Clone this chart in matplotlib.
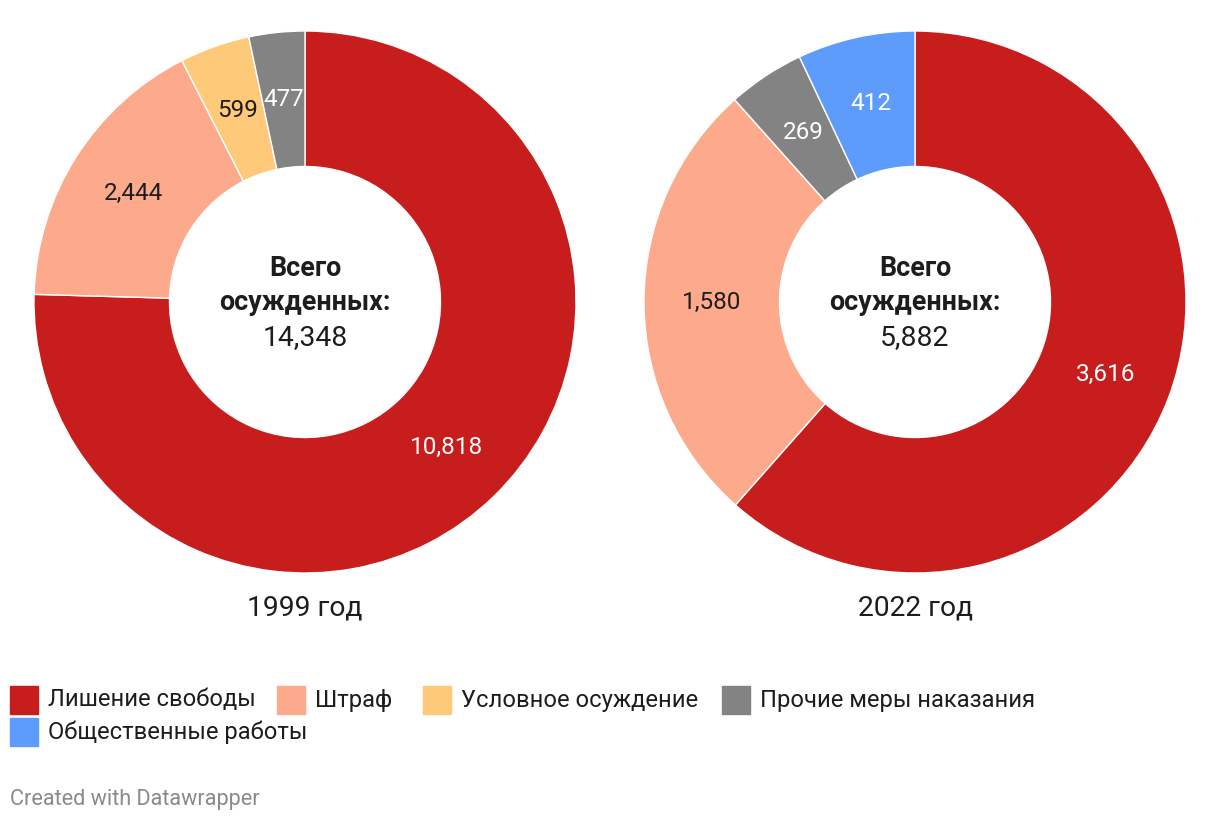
import numpy as np
import matplotlib.pyplot as plt
from matplotlib.patches import Rectangle

plt.rcParams['font.family'] = ['Roboto', 'DejaVu Sans']

# data
categories = ['Лишение свободы', 'Штраф', 'Условное осуждение',
              'Прочие меры наказания', 'Общественные работы']
colors = {'Лишение свободы': '#c71e1d', 'Штраф': '#fda98b',
          'Условное осуждение': '#fec978', 'Прочие меры наказания': '#838383',
          'Общественные работы': '#5e9cfc'}
label_colors = {'Лишение свободы': 'white', 'Штраф': '#1d1d1d',
                'Условное осуждение': '#1d1d1d', 'Прочие меры наказания': 'white',
                'Общественные работы': 'white'}

cats_1999 = ['Лишение свободы', 'Штраф', 'Условное осуждение', 'Прочие меры наказания']
vals_1999 = [10818, 2444, 599, 477]
total_1999 = '14,348'

cats_2022 = ['Лишение свободы', 'Штраф', 'Прочие меры наказания', 'Общественные работы']
vals_2022 = [3616, 1580, 269, 412]
total_2022 = '5,882'

W, H = 1220, 822
fig = plt.figure(figsize=(W / 100, H / 100), dpi=100)


def donut(cx, cy, r, cats, vals, total, year):
    ax = fig.add_axes([(cx - r) / W, (H - cy - r) / H, 2 * r / W, 2 * r / H])
    wedges, _ = ax.pie(vals, colors=[colors[c] for c in cats], startangle=90,
                       counterclock=False, radius=1,
                       wedgeprops=dict(width=0.5, edgecolor='white', linewidth=1))
    for w, c, v in zip(wedges, cats, vals):
        ang = np.deg2rad((w.theta1 + w.theta2) / 2)
        ax.text(0.75 * np.cos(ang), 0.75 * np.sin(ang), f'{v:,}', ha='center',
                va='center', fontsize=17.5, color=label_colors[c])
    # center text
    ax.text(0, 0.125, 'Всего', ha='center', va='center', fontsize=19.4,
            fontweight='bold', color='#1d1d1d')
    ax.text(0, 0.0, 'осужденных:', ha='center', va='center', fontsize=19.4,
            fontweight='bold', color='#1d1d1d')
    ax.text(0, -0.13, total, ha='center', va='center', fontsize=20.4, color='#1d1d1d')
    ax.set_xlim(-1, 1)
    ax.set_ylim(-1, 1)
    ax.axis('off')
    fig.text(cx / W, 1 - 608 / H, year, ha='center', va='center', fontsize=20.3,
             color='#1d1d1d')


donut(305, 302, 271, cats_1999, vals_1999, total_1999, '1999 год')
donut(915, 302, 271, cats_2022, vals_2022, total_2022, '2022 год')

# legend
legend_pos = [(10, 700), (277, 700), (423, 700), (722, 700), (10, 732)]
for c, (x, y) in zip(categories, legend_pos):
    fig.patches.append(Rectangle((x / W, 1 - (y + 14) / H), 28 / W, 28 / H,
                                 transform=fig.transFigure, color=colors[c]))
    fig.text((x + 38) / W, 1 - y / H, c, ha='left', va='center', fontsize=17.1,
             color='#1d1d1d')

fig.text(10 / W, 1 - 799 / H, 'Created with Datawrapper', ha='left', va='center',
         fontsize=15.6, color='#8a8a8a')

fig.savefig('out.png', dpi=100, facecolor='white')
